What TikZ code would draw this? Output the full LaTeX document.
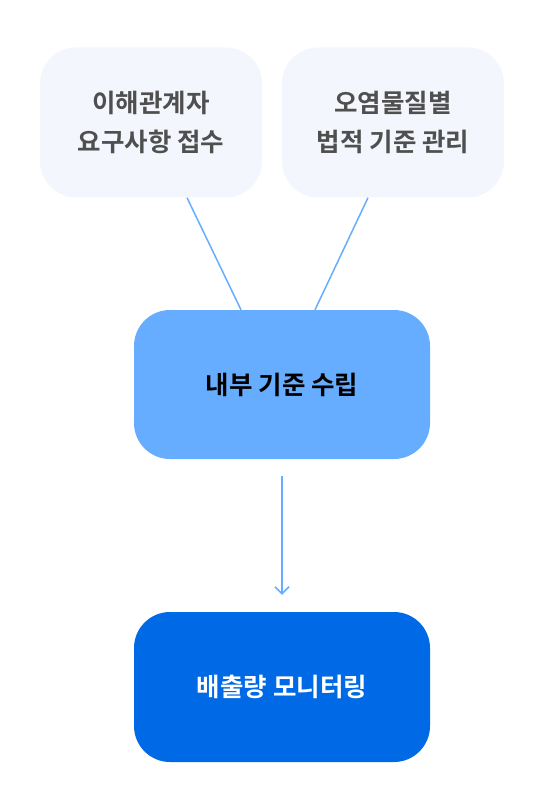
\documentclass[tikz,border=0pt]{standalone}
\usepackage{fontspec}
\usepackage{tikz}
\usetikzlibrary{arrows.meta,positioning,calc}
\newfontfamily\krfont{Noto Sans CJK KR}[BoldFont={Noto Sans CJK KR Bold}]
\definecolor{palebox}{HTML}{F3F6FC}
\definecolor{midblue}{HTML}{66ADFF}
\definecolor{deepblue}{HTML}{006AE6}
\definecolor{greytext}{HTML}{4F4F4F}

\begin{document}
\begin{tikzpicture}[x=1pt,y=-1pt,
  basebox/.style={rectangle,rounded corners=36pt,inner sep=0pt,
    font=\krfont\bfseries\fontsize{25.5}{38.5}\selectfont,align=center},
  inputbox/.style={basebox,fill=palebox,text=greytext,minimum width=222pt,minimum height=150pt},
  stagebox/.style={basebox,fill=midblue,text=black,minimum width=296pt,minimum height=149pt},
  outbox/.style={basebox,fill=deepblue,text=white,minimum width=296pt,minimum height=150pt},
  feed/.style={midblue,line width=1.5pt},
  flow/.style={midblue,line width=1.5pt,-{Straight Barb[length=7pt,width=14pt,line width=1.5pt]},
    shorten <=17pt,shorten >=17pt}]
  % Canvas
  \useasboundingbox (0,0) rectangle (544,810);

  % Inputs
  \node[inputbox] (stake) at (151,122.5) {이해관계자\\요구사항 접수};
  \node[inputbox] (legal) at (393,122.5) {오염물질별\\법적 기준 관리};

  % Internal standard
  \node[stagebox] (inner) at (282,384.5) {내부 기준 수립};

  % Monitoring
  \node[outbox] (monitor) at (282,687) {배출량 모니터링};

  % Connectors
  \draw[feed] ($(stake.south)+(36,0)$) -- ($(inner.north)+(-41,0)$);
  \draw[feed] ($(legal.south)+(-25,0)$) -- ($(inner.north)+(33,0)$);
  \draw[flow] (inner) -- (monitor);
\end{tikzpicture}
\end{document}
